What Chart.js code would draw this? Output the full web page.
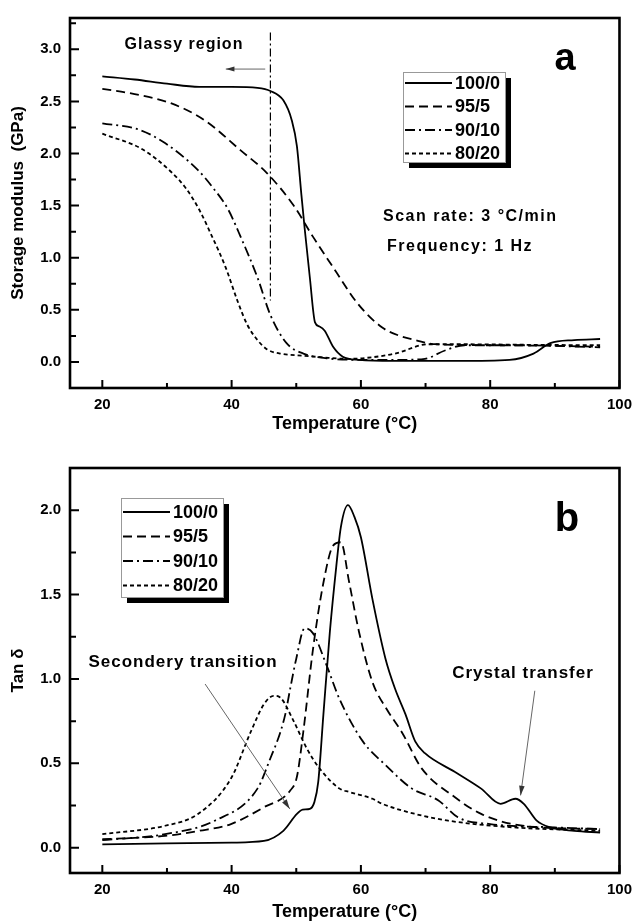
<!DOCTYPE html>
<html lang="en">
<head>
<meta charset="UTF-8">
<title>Storage modulus and Tan delta</title>
<script src="https://cdn.jsdelivr.net/npm/chart.js"></script>
<style>
  body { margin: 0; background: #fff; }
  canvas { display: block; }
</style>
</head>
<body>
<canvas id="modulusChart" width="640" height="450"></canvas>
<canvas id="tanChart" width="640" height="474"></canvas>
<script>
// ---- data ----
const seriesNames = ['100/0', '95/5', '90/10', '80/20'];
const seriesDash = [[], [9, 5], [10, 4, 2, 4], [4, 3]];

const xMajor = [20, 40, 60, 80, 100];
const xMinor = [30, 50, 70, 90];

// panel a: storage modulus (GPa)
const modTicks = [0, 0.5, 1.0, 1.5, 2.0, 2.5, 3.0];
const modMinor = [0.25, 0.75, 1.25, 1.75, 2.25, 2.75, 3.25];

const mod100T = [20, 25, 30, 35, 40, 44, 46, 48, 49.3, 50.1, 50.8, 51.3, 52.1, 52.9, 53.6, 54.4, 55.7, 57.2, 59.7, 65, 75, 83, 86.7, 89.3, 93, 97];
const mod100V = [2.74, 2.71, 2.67, 2.64, 2.64, 2.63, 2.60, 2.51, 2.32, 2.07, 1.60, 1.28, 0.81, 0.38, 0.34, 0.30, 0.145, 0.05, 0.02, 0.01, 0.01, 0.02, 0.08, 0.18, 0.21, 0.22];

const mod95T = [20, 25, 30.7, 35.8, 41.4, 45.5, 49.6, 52.6, 56, 59.5, 63.3, 66, 68.4, 71.5, 80, 90, 97];
const mod95V = [2.62, 2.57, 2.48, 2.32, 2.03, 1.81, 1.50, 1.20, 0.88, 0.56, 0.33, 0.25, 0.21, 0.17, 0.16, 0.155, 0.145];

const mod90T = [20, 25.6, 29.7, 34.8, 37, 39.4, 41.4, 44, 46, 48.5, 51.1, 54.7, 60, 66, 69.9, 73, 76, 85, 97];
const mod90V = [2.29, 2.23, 2.10, 1.84, 1.68, 1.47, 1.20, 0.81, 0.45, 0.18, 0.08, 0.035, 0.02, 0.02, 0.03, 0.11, 0.16, 0.16, 0.14];

const mod80T = [20, 26.2, 30.7, 33, 35, 37, 39, 41, 42.4, 44, 45.5, 47.5, 51.1, 55, 58, 61, 65.3, 70.4, 75, 85, 97];
const mod80V = [2.19, 2.04, 1.82, 1.66, 1.46, 1.20, 0.92, 0.57, 0.36, 0.21, 0.12, 0.08, 0.06, 0.04, 0.03, 0.04, 0.08, 0.17, 0.17, 0.165, 0.16];

// panel b: tan delta
const tanTicks = [0, 0.5, 1.0, 1.5, 2.0];
const tanMinor = [0.25, 0.75, 1.25, 1.75];

const tan100T = [20, 30, 40, 45, 48, 50.1, 51.0, 52.1, 52.8, 53.4, 54.2, 55.2, 56.2, 56.9, 58, 59, 60, 61.8, 63.8, 65.3, 66.9, 68.4, 69.9, 74.5, 78.6, 81.6, 83.9, 85.2, 87.2, 89.3, 93, 97];
const tan100V = [0.02, 0.025, 0.03, 0.04, 0.10, 0.20, 0.225, 0.23, 0.27, 0.39, 0.79, 1.28, 1.67, 1.90, 2.03, 1.96, 1.84, 1.47, 1.12, 0.94, 0.79, 0.63, 0.56, 0.45, 0.35, 0.26, 0.29, 0.26, 0.16, 0.12, 0.10, 0.09];

const tan95T = [20, 29.7, 35, 39.9, 45, 49.1, 50.1, 51.1, 52.6, 54.2, 55.7, 56.9, 58.2, 59.7, 61.8, 64, 66.4, 69.4, 74.5, 78.6, 85, 97];
const tan95V = [0.05, 0.07, 0.10, 0.14, 0.24, 0.34, 0.42, 0.69, 1.18, 1.57, 1.79, 1.81, 1.57, 1.28, 0.98, 0.82, 0.68, 0.47, 0.30, 0.20, 0.13, 0.11];

const tan90T = [20, 29.7, 37.4, 44, 46, 47.5, 48.3, 49.1, 50, 51.3, 52.6, 54.7, 56.7, 60.3, 63.8, 67.9, 72, 75, 80, 90, 97];
const tan90V = [0.045, 0.08, 0.16, 0.35, 0.53, 0.68, 0.79, 0.95, 1.12, 1.30, 1.27, 1.08, 0.88, 0.63, 0.49, 0.35, 0.28, 0.18, 0.14, 0.12, 0.11];

const tan80T = [20, 29.7, 34.8, 39.9, 43, 45, 46.5, 47.5, 49.6, 51.6, 53.6, 56.7, 58.2, 61.8, 63.3, 68.4, 73.5, 83.7, 97];
const tan80V = [0.08, 0.13, 0.20, 0.41, 0.69, 0.85, 0.90, 0.89, 0.75, 0.59, 0.47, 0.35, 0.33, 0.29, 0.26, 0.20, 0.16, 0.12, 0.10];

// ---- helpers ----
const FONT = '"Liberation Sans", Arial, sans-serif';
Chart.defaults.font.family = FONT;
Chart.defaults.font.weight = 'bold';
Chart.defaults.color = '#000';

function points(t, v) {
    return t.map((x, i) => ({ x: x, y: v[i] }));
}

function makeDatasets(pairs) {
    return pairs.map((p, i) => ({
        label: seriesNames[i],
        data: points(p[0], p[1]),
        borderColor: '#000',
        borderWidth: 1.8,
        borderDash: seriesDash[i],
        pointRadius: 0,
        fill: false,
        cubicInterpolationMode: 'monotone'
    }));
}

function arrow(ctx, x1, y1, x2, y2, head) {
    ctx.beginPath();
    ctx.moveTo(x1, y1);
    ctx.lineTo(x2, y2);
    ctx.stroke();
    const ang = Math.atan2(y2 - y1, x2 - x1);
    ctx.beginPath();
    ctx.moveTo(x2, y2);
    ctx.lineTo(x2 - head * Math.cos(ang - 0.28), y2 - head * Math.sin(ang - 0.28));
    ctx.lineTo(x2 - head * Math.cos(ang + 0.28), y2 - head * Math.sin(ang + 0.28));
    ctx.closePath();
    ctx.fill();
}

function text(ctx, str, x, y, size, align) {
    ctx.font = 'bold ' + size + 'px ' + FONT;
    ctx.textAlign = align || 'center';
    ctx.textBaseline = 'middle';
    ctx.fillStyle = '#000';
    ctx.fillText(str, x, y);
}

function drawLegend(chart, left, top, w, h, rowTop, rowGap) {
    const ctx = chart.ctx;
    ctx.fillStyle = '#000';
    ctx.fillRect(left + 6, top + 6, w, h);
    ctx.fillStyle = '#fff';
    ctx.fillRect(left, top, w, h);
    ctx.strokeStyle = '#999';
    ctx.lineWidth = 1;
    ctx.strokeRect(left + 0.5, top + 0.5, w, h);
    chart.data.datasets.forEach((ds, i) => {
        const yy = top + rowTop + i * rowGap;
        ctx.strokeStyle = '#000';
        ctx.lineWidth = 1.8;
        ctx.setLineDash(ds.borderDash);
        ctx.beginPath();
        ctx.moveTo(left + 2, yy);
        ctx.lineTo(left + 49, yy);
        ctx.stroke();
        ctx.setLineDash([]);
        ctx.letterSpacing = '0px';
        text(ctx, ds.label, left + 52, yy + 1, 18, 'left');
    });
}

// frame, inward ticks and the panel's own extras
const framePlugin = {
    id: 'frame',
    afterDatasetsDraw(chart, args, opts) {
        const { ctx, chartArea: a, scales: { x, y } } = chart;
        ctx.save();
        ctx.strokeStyle = '#000';
        ctx.lineWidth = 2;
        ctx.beginPath();
        xMajor.concat(xMinor).forEach(v => {
            const px = x.getPixelForValue(v);
            const len = xMajor.includes(v) ? 8 : 5;
            ctx.moveTo(px, a.bottom);
            ctx.lineTo(px, a.bottom - len);
        });
        opts.yMajor.concat(opts.yMinor).forEach(v => {
            const py = y.getPixelForValue(v);
            const len = opts.yMajor.includes(v) ? 9 : 6;
            ctx.moveTo(a.left, py);
            ctx.lineTo(a.left + len, py);
        });
        ctx.stroke();
        ctx.lineWidth = 2.6;
        ctx.strokeRect(a.left, a.top, a.right - a.left, a.bottom - a.top);
        opts.extra(chart);
        ctx.restore();
    }
};

function baseOptions(yMin, yMax, yTicks, yTitle, xHeight, titleBottom) {
    return {
        responsive: false,
        animation: false,
        devicePixelRatio: 1,
        layout: { padding: { top: 0, right: 15, bottom: 0, left: 0 } },
        plugins: { legend: { display: false }, tooltip: { enabled: false } },
        scales: {
            x: {
                type: 'linear',
                min: 15,
                max: 100,
                grid: { display: false, drawTicks: false },
                border: { display: false },
                afterBuildTicks: s => { s.ticks = xMajor.map(v => ({ value: v })); },
                afterFit: s => { s.height = xHeight; },
                ticks: { autoSkip: false, maxRotation: 0, padding: 8, font: { size: 15, weight: 'bold' }, callback: v => String(v) },
                title: { display: true, text: 'Temperature (°C)', font: { size: 18, weight: 'bold' }, padding: { top: 0, bottom: titleBottom } }
            },
            y: {
                min: yMin,
                max: yMax,
                grid: { display: false, drawTicks: false },
                border: { display: false },
                afterBuildTicks: s => { s.ticks = yTicks.map(v => ({ value: v })); },
                afterFit: s => { s.width = 70; },
                ticks: { autoSkip: false, padding: 9, font: { size: 15, weight: 'bold' }, callback: v => v.toFixed(1) },
                title: { display: true, text: yTitle, font: { size: 17, weight: 'bold' }, padding: { top: 8, bottom: 0 } }
            }
        }
    };
}

// ---- panel a ----
const optA = baseOptions(-0.25, 3.3, modTicks, 'Storage modulus  (GPa)', 62, 15);
optA.layout.padding.top = 14;
optA.plugins.frame = {
    yMajor: modTicks,
    yMinor: modMinor,
    extra(chart) {
        const { ctx, scales: { x, y } } = chart;
        // glassy region boundary
        ctx.strokeStyle = '#000';
        ctx.lineWidth = 1.2;
        ctx.setLineDash([8, 3, 2, 3]);
        ctx.beginPath();
        ctx.moveTo(x.getPixelForValue(46), y.getPixelForValue(3.16));
        ctx.lineTo(x.getPixelForValue(46), y.getPixelForValue(0.59));
        ctx.stroke();
        ctx.setLineDash([]);
        ctx.strokeStyle = '#666';
        ctx.fillStyle = '#333';
        ctx.lineWidth = 1;
        arrow(ctx, x.getPixelForValue(45.2), y.getPixelForValue(2.81), x.getPixelForValue(39.1), y.getPixelForValue(2.81), 9);
        ctx.letterSpacing = '1px';
        text(ctx, 'Glassy region', 184, 45, 16);
        ctx.letterSpacing = '1.5px';
        text(ctx, 'Scan rate: 3 °C/min', 383, 217, 16, 'left');
        text(ctx, 'Frequency: 1 Hz', 387, 247, 16, 'left');
        ctx.letterSpacing = '0px';
        text(ctx, 'a', 565, 60, 38);
        drawLegend(chart, 403, 72, 102, 90, 11, 23.5);
    }
};

new Chart(document.getElementById('modulusChart'), {
    type: 'line',
    data: {
        datasets: makeDatasets([[mod100T, mod100V], [mod95T, mod95V], [mod90T, mod90V], [mod80T, mod80V]])
    },
    options: optA,
    plugins: [framePlugin]
});

// ---- panel b ----
const optB = baseOptions(-0.15, 2.25, tanTicks, 'Tan δ', 51, 1);
optB.layout.padding.top = 16;
optB.plugins.frame = {
    yMajor: tanTicks,
    yMinor: tanMinor,
    extra(chart) {
        const { ctx, scales: { x, y } } = chart;
        ctx.strokeStyle = '#666';
        ctx.fillStyle = '#333';
        ctx.lineWidth = 1;
        arrow(ctx, x.getPixelForValue(35.9), y.getPixelForValue(0.97), x.getPixelForValue(49.0), y.getPixelForValue(0.23), 10);
        arrow(ctx, x.getPixelForValue(86.9), y.getPixelForValue(0.93), x.getPixelForValue(84.7), y.getPixelForValue(0.31), 10);
        ctx.letterSpacing = '1px';
        text(ctx, 'Secondery transition', 183, 212, 17);
        text(ctx, 'Crystal transfer', 523, 223, 17);
        ctx.letterSpacing = '0px';
        text(ctx, 'b', 567, 70, 40);
        drawLegend(chart, 121, 48, 102, 99, 14, 24.5);
    }
};

new Chart(document.getElementById('tanChart'), {
    type: 'line',
    data: {
        datasets: makeDatasets([[tan100T, tan100V], [tan95T, tan95V], [tan90T, tan90V], [tan80T, tan80V]])
    },
    options: optB,
    plugins: [framePlugin]
});
</script>
</body>
</html>
